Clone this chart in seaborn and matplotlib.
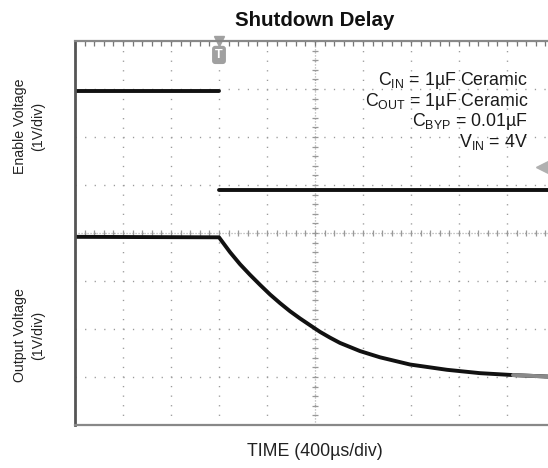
import matplotlib.pyplot as plt
import numpy as np
import pandas as pd
import seaborn as sns

sns.set_theme(style="white")
plt.rcParams['font.family'] = ['Liberation Sans', 'DejaVu Sans']
plt.rcParams['mathtext.default'] = 'regular'

# scope screen: 10 div x 400us, 8 div x 1V (values in divisions from bottom)
# enable: high before the trigger, low after (edge not captured)
t_enable = [0, 1200, 1200, 4000]
v_enable = [6.95, 6.95, 4.90, 4.90]
seg_enable = [0, 0, 1, 1]

t_out = [0, 1200, 1292, 1375, 1458, 1542, 1625, 1708, 1792, 1875, 1958,
         2042, 2125, 2208, 2375, 2542, 2792, 3100, 3375, 3650, 3933, 4000]
v_out = [3.92, 3.91, 3.60, 3.35, 3.13, 2.92, 2.72, 2.54, 2.37, 2.22, 2.08,
         1.94, 1.82, 1.71, 1.54, 1.41, 1.26, 1.15, 1.08, 1.04, 1.01, 1.00]

trigger_time = 1200
trigger_level = 5.38
notes = ["$C_{IN}$ = 1µF Ceramic", "$C_{OUT}$ = 1µF Ceramic",
         "$C_{BYP}$ = 0.01µF", "$V_{IN}$ = 4V"]

enable = pd.DataFrame({"time": t_enable, "volt": v_enable, "seg": seg_enable})
output = pd.DataFrame({"time": t_out, "volt": v_out})

fig = plt.figure(figsize=(5.48, 4.68), dpi=100)
ax = fig.add_axes([75/548, 43/468, 480/548, 384/468])  # right edge runs off the picture

# graticule
dot = (0, (0.9, 5.99))
for t in range(0, 4001, 400):
    ax.axvline(t, color="#9a9a9a", lw=1.0, ls=dot, zorder=0)
for v in range(0, 9):
    ax.axhline(v, color="#9a9a9a", lw=1.0, ls=dot, zorder=0)
ax.axvline(2000, color="#aaaaaa", lw=0.9, ls=(0, (0.9, 1.5)), zorder=0)
ax.axhline(4, color="#aaaaaa", lw=0.9, ls=(0, (0.9, 1.5)), zorder=0)
ax.scatter(np.arange(0, 4001, 80), np.full(51, 4.0), marker="|", s=18,
           color="#999999", linewidths=0.9, zorder=0)
ax.scatter(np.full(41, 2000), np.arange(0, 8.01, 0.2), marker="_", s=18,
           color="#999999", linewidths=0.9, zorder=0)

sns.lineplot(data=enable, x="time", y="volt", units="seg", ax=ax,
             color="#111111", linewidth=2.8, estimator=None, sort=False)
sns.lineplot(data=output, x="time", y="volt", ax=ax, color="#111111",
             linewidth=2.8, estimator=None, sort=False)
tail = output[output.time >= 3650]
sns.lineplot(data=tail, x="time", y="volt", ax=ax, color="#8a8a8a",
             linewidth=2.8, estimator=None, sort=False)

ax.set_xlim(0, 4000)
ax.set_ylim(0, 8)
ax.set_xticks(range(0, 4001, 400))
ax.set_xticks(range(0, 4001, 80), minor=True)
ax.set_yticks(range(0, 9))
ax.set_yticks(np.arange(0, 8.01, 0.2), minor=True)
ax.tick_params(which="both", direction="in", length=3.5, width=0.9,
               color="#777777", top=True, right=True,
               labelbottom=False, labelleft=False)
ax.set_xlabel("")
ax.set_ylabel("")
for side in ["top", "bottom", "right"]:
    ax.spines[side].set_color("#888888")
    ax.spines[side].set_linewidth(1.6)
ax.spines["left"].set_color("#555555")
ax.spines["left"].set_linewidth(2.0)

# trigger markers
ax.plot([trigger_time], [8], marker="v", ms=7, color="#a0a0a0", clip_on=False)
ax.text(trigger_time, 7.71, "T", ha="center", va="center", color="white",
        fontsize=9, fontweight="bold",
        bbox=dict(boxstyle="round,pad=0.25", fc="#a0a0a0", ec="none"))
ax.plot([3890], [trigger_level], marker="<", ms=9, color="#b0b0b0")

for i, s in enumerate(notes):
    fig.text(528/548, 1 - (85 + 20.5*i)/468, s, ha="right", va="baseline",
             fontsize=12.8, color="#1a1a1a")

fig.text(315/548, 1 - 20/468, "Shutdown Delay", ha="center", va="center",
         fontsize=14.8, fontweight="bold", color="#111111")
fig.text(315/548, 1 - 452/468, "TIME (400µs/div)", ha="center", va="center",
         fontsize=12.8, color="#222222")
fig.text(29/548, 1 - 126/468, "Enable Voltage\n(1V/div)", ha="center",
         va="center", rotation=90, fontsize=10.2, color="#222222",
         multialignment="center", linespacing=1.45)
fig.text(29/548, 1 - 335/468, "Output Voltage\n(1V/div)", ha="center",
         va="center", rotation=90, fontsize=10.2, color="#222222",
         multialignment="center", linespacing=1.45)

fig.savefig("out.png", dpi=100, facecolor="white")
